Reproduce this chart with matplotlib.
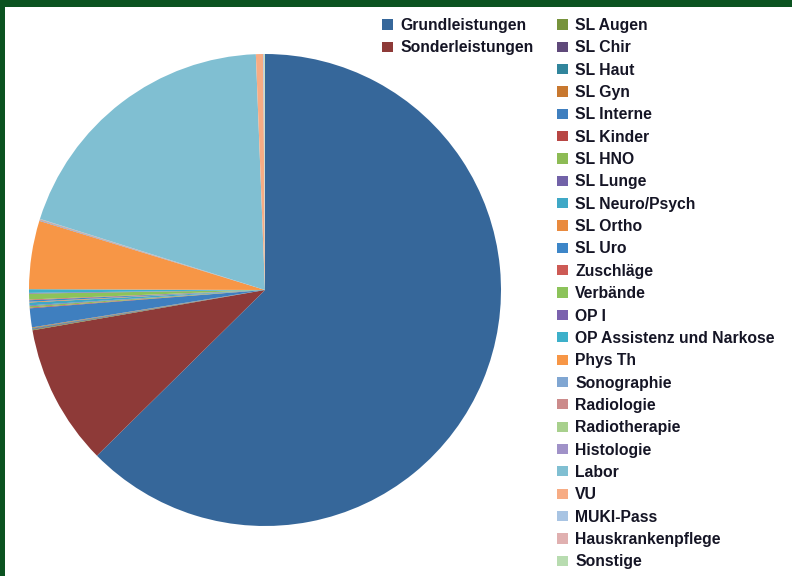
import matplotlib
matplotlib.use("Agg")
import matplotlib.pyplot as plt
from matplotlib.patches import Rectangle

labels = ["Grundleistungen", "Sonderleistungen", "SL Augen", "SL Chir", "SL Haut",
          "SL Gyn", "SL Interne", "SL Kinder", "SL HNO", "SL Lunge", "SL Neuro/Psych",
          "SL Ortho", "SL Uro", "Zuschläge", "Verbände", "OP I",
          "OP Assistenz und Narkose", "Phys Th", "Sonographie", "Radiologie",
          "Radiotherapie", "Histologie", "Labor", "VU", "MUKI-Pass",
          "Hauskrankenpflege", "Sonstige"]
values = [62.9, 9.7, 0.05, 0.05, 0.05,
          0.05, 1.3, 0.05, 0.1, 0.05, 0.2,
          0.05, 0.1, 0.05, 0.4, 0.05,
          0.25, 4.7, 0.05, 0.05,
          0.02, 0.02, 19.6, 0.5, 0.05,
          0.02, 0.05]
colors = ["#36679A", "#8E3A38", "#77933C", "#5F497A", "#31859C",
          "#C8782F", "#3F7FBF", "#B84644", "#8DBB55", "#7262A8", "#3FA8C6",
          "#E98A3E", "#3D86C8", "#CD5A55", "#8CC35A", "#7B62AE",
          "#3DB0CA", "#F79646", "#80A6D2", "#CC8B8B",
          "#A8D08D", "#A092C8", "#80BFD2", "#F7AC84", "#A8C4E3",
          "#E0B0B0", "#B8DCB0"]

fig = plt.figure(figsize=(11, 8), dpi=72)
fig.patch.set_facecolor("white")

W, H = 792, 576
cx, cy, r = 265, 290, 236
ax = fig.add_axes([(cx - r) / W, (H - cy - r) / H, 2 * r / W, 2 * r / H])
wedges, _ = ax.pie(values, colors=colors, startangle=90, counterclock=False,
                   radius=1, wedgeprops=dict(linewidth=0))
ax.set_xlim(-1, 1)
ax.set_ylim(-1, 1)
ax.set_aspect("equal")
ax.axis("off")

font = dict(family="Liberation Sans", weight="bold", size=15.8)
txtcol = "#151525"

common = dict(loc="upper left", frameon=False, prop=font, handlelength=0.72,
              handleheight=0.62, handletextpad=0.42, labelspacing=0.465,
              borderpad=0, borderaxespad=0)
leg1 = fig.legend(wedges[:2], labels[:2],
                  bbox_to_anchor=(382 / W, (H - 18) / H), **common)
leg2 = fig.legend(wedges[2:], labels[2:],
                  bbox_to_anchor=(557 / W, (H - 18) / H), **common)
for leg in (leg1, leg2):
    for t in leg.get_texts():
        t.set_color(txtcol)

# green frame
fig.patches.append(Rectangle((0, (H - 7) / H), 1, 7 / H, transform=fig.transFigure,
                             facecolor="#0B5320", edgecolor="none"))
fig.patches.append(Rectangle((0, 0), 5 / W, 1, transform=fig.transFigure,
                             facecolor="#0B5320", edgecolor="none"))

fig.savefig("out.png", dpi=72, facecolor="white")
